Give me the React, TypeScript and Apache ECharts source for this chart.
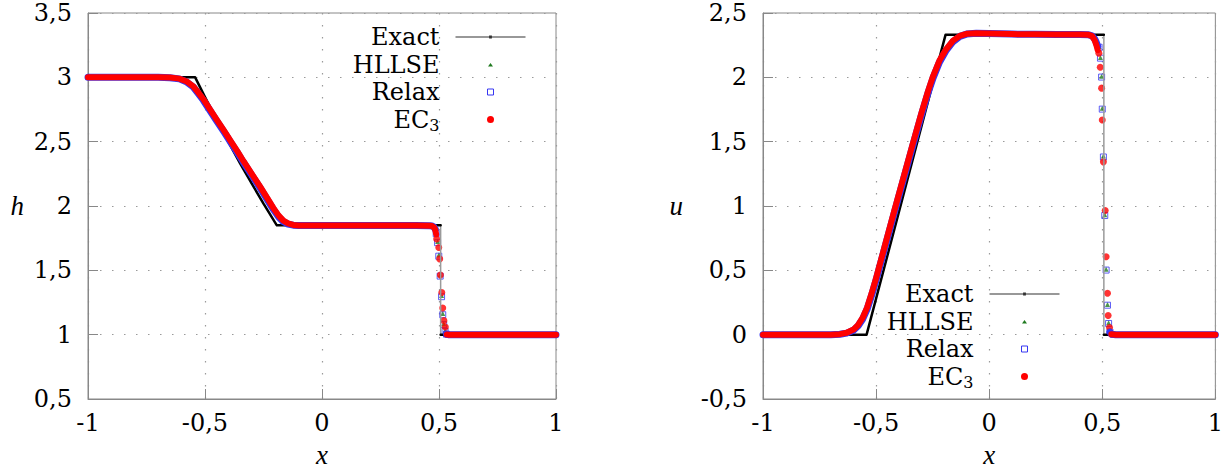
import React, { useEffect, useRef } from "react";
import * as echarts from "echarts";

// ---------- ticks ----------
const xTickValues = [-1, -0.5, 0, 0.5, 1];
const xTickLabels = ["-1", "-0,5", "0", "0,5", "1"];
const hTickValues = [0.5, 1, 1.5, 2, 2.5, 3, 3.5];
const hTickLabels = ["0,5", "1", "1,5", "2", "2,5", "3", "3,5"];
const uTickValues = [-0.5, 0, 0.5, 1, 1.5, 2, 2.5];
const uTickLabels = ["-0,5", "0", "0,5", "1", "1,5", "2", "2,5"];

const legendNames = ["Exact", "HLLSE", "Relax", "EC3"];

// ---------- h (left) ----------
const exactHWave = [[-1, 3], [-0.542, 3], [-0.5, 2.846], [-0.45, 2.669], [-0.4, 2.498], [-0.35, 2.332], [-0.3, 2.173], [-0.25, 2.018], [-0.193, 1.85], [0.507, 1.85]];
const exactHRight = [[0.507, 1], [1, 1]];
const exactHJump = [[0.507, 1.85], [0.507, 1]];

const hllseHSmooth = [[-1, 3], [-0.7, 3], [-0.65, 2.998], [-0.61, 2.99], [-0.58, 2.968], [-0.55, 2.928], [-0.53, 2.882], [-0.507, 2.826], [-0.48, 2.75], [-0.45, 2.667], [-0.42, 2.585], [-0.39, 2.5], [-0.36, 2.415], [-0.336, 2.345], [-0.3, 2.245], [-0.265, 2.148], [-0.235, 2.06], [-0.208, 1.98], [-0.185, 1.92], [-0.165, 1.882], [-0.145, 1.862], [-0.123, 1.852], [-0.1, 1.849], [0, 1.848], [0.2, 1.848], [0.4, 1.848], [0.46, 1.847], [0.47, 1.845], [0.478, 1.838], [0.484, 1.82]];
const hllseHRight = [[0.532, 1.006], [0.54, 1.0], [0.6, 1.0], [0.8, 1.0], [1, 1]];
const hllseHShock = [[0.488, 1.79], [0.494, 1.725], [0.499, 1.62], [0.505, 1.465], [0.511, 1.305], [0.516, 1.165], [0.52, 1.085], [0.526, 1.03], [0.532, 1.006]];

const relaxHSmooth = [[-1, 3], [-0.7, 3], [-0.65, 2.997], [-0.61, 2.988], [-0.58, 2.966], [-0.55, 2.925], [-0.53, 2.878], [-0.507, 2.822], [-0.48, 2.746], [-0.45, 2.662], [-0.42, 2.58], [-0.39, 2.495], [-0.36, 2.41], [-0.336, 2.34], [-0.3, 2.24], [-0.265, 2.142], [-0.235, 2.054], [-0.208, 1.974], [-0.185, 1.915], [-0.165, 1.878], [-0.145, 1.859], [-0.123, 1.851], [-0.1, 1.849], [0, 1.848], [0.2, 1.848], [0.4, 1.848], [0.46, 1.847], [0.47, 1.845], [0.478, 1.838], [0.484, 1.82]];
const relaxHRight = [[0.532, 1.004], [0.54, 1.0], [0.6, 1.0], [0.8, 1.0], [1, 1]];
const relaxHShock = [[0.488, 1.785], [0.494, 1.715], [0.499, 1.61], [0.505, 1.455], [0.511, 1.295], [0.516, 1.155], [0.52, 1.078], [0.526, 1.025], [0.532, 1.004]];

const ec3HSmooth = [[-1, 3], [-0.7, 3], [-0.65, 2.998], [-0.61, 2.99], [-0.58, 2.97], [-0.55, 2.93], [-0.53, 2.885], [-0.507, 2.83], [-0.48, 2.755], [-0.45, 2.672], [-0.42, 2.59], [-0.39, 2.505], [-0.36, 2.42], [-0.336, 2.35], [-0.3, 2.25], [-0.265, 2.153], [-0.235, 2.065], [-0.208, 1.985], [-0.185, 1.925], [-0.165, 1.886], [-0.145, 1.865], [-0.123, 1.853], [-0.1, 1.849], [0, 1.848], [0.2, 1.848], [0.4, 1.848], [0.46, 1.847], [0.47, 1.844], [0.478, 1.835], [0.484, 1.815], [0.488, 1.78]];
const ec3HRight = [[0.533, 1.002], [0.54, 1.0], [0.6, 1.0], [0.8, 1.0], [1, 1]];
const ec3HShock = [[0.49, 1.744], [0.499, 1.677], [0.503, 1.589], [0.506, 1.463], [0.512, 1.328], [0.516, 1.207], [0.521, 1.109], [0.527, 1.06], [0.533, 1.002]];

// ---------- u (right) ----------
const exactUWave = [[-1, 0], [-0.542, 0], [-0.193, 2.33], [0.507, 2.33]];
const exactURight = [[0.507, 0], [1, 0]];
const exactUJump = [[0.507, 2.33], [0.507, 0]];

const hllseUSmooth = [[-1, 0], [-0.7, 0], [-0.66, 0.003], [-0.63, 0.013], [-0.6, 0.036], [-0.58, 0.07], [-0.56, 0.124], [-0.54, 0.202], [-0.52, 0.31], [-0.5, 0.43], [-0.48, 0.56], [-0.46, 0.69], [-0.42, 0.95], [-0.38, 1.205], [-0.34, 1.46], [-0.3, 1.71], [-0.27, 1.886], [-0.248, 2.0], [-0.22, 2.122], [-0.19, 2.214], [-0.16, 2.28], [-0.13, 2.32], [-0.1, 2.337], [-0.057, 2.343], [0, 2.34], [0.1, 2.336], [0.2, 2.334], [0.3, 2.333], [0.4, 2.332], [0.44, 2.33], [0.455, 2.322], [0.466, 2.3], [0.474, 2.27], [0.48, 2.24]];
const hllseURight = [[0.534, 0.025], [0.54, 0.004], [0.56, 0], [0.7, 0], [1, 0]];
const hllseUShock = [[0.486, 2.24], [0.492, 2.155], [0.497, 2.008], [0.5, 1.76], [0.505, 1.388], [0.511, 0.932], [0.517, 0.508], [0.523, 0.235], [0.528, 0.092], [0.534, 0.025]];

const relaxUSmooth = [[-1, 0], [-0.7, 0], [-0.66, 0.003], [-0.63, 0.012], [-0.6, 0.034], [-0.58, 0.067], [-0.56, 0.12], [-0.54, 0.197], [-0.52, 0.305], [-0.5, 0.425], [-0.48, 0.555], [-0.46, 0.685], [-0.42, 0.945], [-0.38, 1.2], [-0.34, 1.455], [-0.3, 1.705], [-0.27, 1.882], [-0.248, 1.996], [-0.22, 2.118], [-0.19, 2.21], [-0.16, 2.277], [-0.13, 2.318], [-0.1, 2.336], [-0.057, 2.343], [0, 2.34], [0.1, 2.336], [0.2, 2.334], [0.3, 2.333], [0.4, 2.332], [0.44, 2.33], [0.455, 2.322], [0.466, 2.3], [0.474, 2.27], [0.48, 2.24]];
const relaxURight = [[0.534, 0.02], [0.54, 0.004], [0.56, 0], [0.7, 0], [1, 0]];
const relaxUShock = [[0.486, 2.234], [0.492, 2.149], [0.497, 2.002], [0.5, 1.753], [0.505, 1.381], [0.511, 0.926], [0.517, 0.502], [0.523, 0.229], [0.528, 0.087], [0.534, 0.02]];

const ec3USmooth = [[-1, 0], [-0.7, 0], [-0.66, 0.004], [-0.63, 0.015], [-0.6, 0.04], [-0.58, 0.075], [-0.56, 0.13], [-0.54, 0.21], [-0.52, 0.32], [-0.5, 0.44], [-0.48, 0.57], [-0.46, 0.7], [-0.42, 0.96], [-0.38, 1.215], [-0.34, 1.47], [-0.3, 1.72], [-0.27, 1.895], [-0.248, 2.01], [-0.22, 2.13], [-0.19, 2.22], [-0.16, 2.285], [-0.13, 2.322], [-0.1, 2.338], [-0.057, 2.343], [0, 2.34], [0.1, 2.336], [0.2, 2.334], [0.3, 2.333], [0.4, 2.332], [0.44, 2.33], [0.455, 2.32], [0.466, 2.29], [0.474, 2.25], [0.48, 2.21]];
const ec3URight = [[0.54, 0.004], [0.56, 0], [0.7, 0], [1, 0]];
const ec3UShock = [[0.485, 2.188], [0.491, 2.079], [0.497, 1.916], [0.5, 1.668], [0.505, 1.343], [0.513, 0.965], [0.517, 0.606], [0.523, 0.322], [0.526, 0.149], [0.532, 0.056], [0.54, 0.004]];

const FONT = "DejaVu Serif";
const ITALIC_FONT = "Liberation Serif";
const C_EXACT = "#000000";
const C_HLLSE = "#1f7a1f";
const C_RELAX = "#3636f2";
const C_EC3 = "#ff0000";

// legend icons: 70x8 bounding box (degenerate corner points), marker centred
const ICON_EXACT = "path://M0,0L0,0M70,8L70,8M0,3.4L70,3.4L70,4.6L0,4.6ZM33.6,2.6L36.4,2.6L36.4,5.4L33.6,5.4Z";
const ICON_TRI = "path://M0,0L0,0M70,8L70,8M32.5,6L35,2.5L37.5,6Z";
const ICON_SQ = "path://M0,0L0,0M70,8L70,8M32,1L38,1L38,7L32,7Z";
const ICON_DOT = "path://M0,0L0,0M70,8L70,8M38.5,4A3.5,3.5,0,1,1,31.5,4A3.5,3.5,0,1,1,38.5,4Z";

function lookupLabel(values: number[], labels: string[]) {
  return (v: number) => {
    const i = values.findIndex((t) => Math.abs(t - v) < 1e-9);
    return i >= 0 ? labels[i] : "";
  };
}

function line(name: string, data: number[][], gi: number, color: string, width: number, extra: any = {}) {
  return {
    type: "line",
    name,
    data,
    xAxisIndex: gi,
    yAxisIndex: gi,
    showSymbol: false,
    symbol: "none",
    lineStyle: { color, width, cap: "round", join: "round" },
    itemStyle: { color },
    silent: true,
    ...extra,
  };
}

function dots(name: string, data: number[][], gi: number, symbol: string, size: number, itemStyle: any) {
  return {
    type: "scatter",
    name,
    data,
    xAxisIndex: gi,
    yAxisIndex: gi,
    symbol,
    symbolSize: size,
    itemStyle,
    silent: true,
  };
}

function plotSeries(gi: number, d: any) {
  return [
    line("Exact", d.exactJump, gi, "#9a9a9a", 1.5),
    line("Exact", d.exactWave, gi, C_EXACT, 2.5),
    line("Exact", d.exactRight, gi, C_EXACT, 2.5),
    line("HLLSE", d.hllseSmooth, gi, C_HLLSE, 5),
    line("HLLSE", d.hllseRight, gi, C_HLLSE, 5),
    dots("HLLSE", d.hllseShock, gi, "triangle", 5, { color: C_HLLSE }),
    line("Relax", d.relaxSmooth, gi, C_RELAX, 7),
    line("Relax", d.relaxRight, gi, C_RELAX, 7),
    dots("Relax", d.relaxShock, gi, "rect", 6, { color: "rgba(255,255,255,0)", borderColor: C_RELAX, borderWidth: 1 }),
    line("EC3", d.ec3Smooth, gi, C_EC3, 6),
    line("EC3", d.ec3Right, gi, C_EC3, 6),
    dots("EC3", d.ec3Shock, gi, "circle", 7, { color: C_EC3 }),
  ];
}

function xAxisOf(gi: number) {
  return {
    gridIndex: gi,
    type: "value",
    min: -1,
    max: 1,
    interval: 0.5,
    name: "x",
    nameLocation: "middle",
    nameGap: 42,
    nameTextStyle: { fontFamily: ITALIC_FONT, fontSize: 27, fontStyle: "italic", color: "#000" },
    axisLine: { show: true, onZero: false, lineStyle: { color: "#888", width: 1 } },
    axisTick: { show: true, inside: true, length: 10, lineStyle: { color: "#888" } },
    axisLabel: { formatter: lookupLabel(xTickValues, xTickLabels), fontFamily: FONT, fontSize: 24, color: "#000", margin: 12 },
    splitLine: { show: true, lineStyle: { color: "#9a9a9a", type: [1.5, 10.5], width: 1.2 } },
  };
}

function yAxisOf(gi: number, name: string, gap: number, min: number, max: number, vals: number[], labs: string[]) {
  return {
    gridIndex: gi,
    type: "value",
    min,
    max,
    interval: 0.5,
    name,
    nameLocation: "middle",
    nameRotate: 0,
    nameGap: gap,
    nameTextStyle: { fontFamily: ITALIC_FONT, fontSize: 27, fontStyle: "italic", color: "#000" },
    axisLine: { show: true, onZero: false, lineStyle: { color: "#888", width: 1 } },
    axisTick: { show: true, inside: true, length: 10, lineStyle: { color: "#888" } },
    axisLabel: { formatter: lookupLabel(vals, labs), fontFamily: FONT, fontSize: 24, color: "#000", margin: 16 },
    splitLine: { show: true, lineStyle: { color: "#9a9a9a", type: [1.5, 10.5], width: 1.2 } },
  };
}

function legendOf(right: number, top: number) {
  return {
    orient: "vertical",
    align: "right",
    right,
    top,
    padding: 0,
    itemGap: 3.5,
    itemWidth: 70,
    itemHeight: 8,
    selectedMode: false,
    textStyle: {
      fontFamily: FONT,
      fontSize: 24,
      color: "#000",
      lineHeight: 24,
      padding: [0, 11, 0, 0],
      rich: {
        sub: { fontFamily: FONT, fontSize: 16, color: "#000", padding: [12, 0, 0, 0] },
      },
    },
    formatter: (n: string) => (n === "EC3" ? "EC{sub|3}" : n),
    data: [
      { name: legendNames[0], icon: ICON_EXACT, itemStyle: { color: "#333" } },
      { name: legendNames[1], icon: ICON_TRI, itemStyle: { color: C_HLLSE } },
      { name: legendNames[2], icon: ICON_SQ, itemStyle: { color: "#fff", borderColor: C_RELAX, borderWidth: 1 } },
      { name: legendNames[3], icon: ICON_DOT, itemStyle: { color: C_EC3 } },
    ],
  };
}

export default function App() {
  const ref = useRef<HTMLDivElement>(null);
  useEffect(() => {
    if (!ref.current) return;
    const chart = echarts.init(ref.current, undefined, { renderer: "svg" });
    const left = plotSeries(0, {
      exactWave: exactHWave, exactRight: exactHRight, exactJump: exactHJump,
      hllseSmooth: hllseHSmooth, hllseRight: hllseHRight, hllseShock: hllseHShock,
      relaxSmooth: relaxHSmooth, relaxRight: relaxHRight, relaxShock: relaxHShock,
      ec3Smooth: ec3HSmooth, ec3Right: ec3HRight, ec3Shock: ec3HShock,
    });
    const right = plotSeries(1, {
      exactWave: exactUWave, exactRight: exactURight, exactJump: exactUJump,
      hllseSmooth: hllseUSmooth, hllseRight: hllseURight, hllseShock: hllseUShock,
      relaxSmooth: relaxUSmooth, relaxRight: relaxURight, relaxShock: relaxUShock,
      ec3Smooth: ec3USmooth, ec3Right: ec3URight, ec3Shock: ec3UShock,
    });
    chart.setOption({
      animation: false,
      backgroundColor: "#ffffff",
      textStyle: { fontFamily: FONT },
      grid: [
        { left: 88, top: 13, width: 468, height: 387, show: true, borderColor: "#888", borderWidth: 1, backgroundColor: "transparent" },
        { left: 763, top: 13, width: 453, height: 387, show: true, borderColor: "#888", borderWidth: 1, backgroundColor: "transparent" },
      ],
      xAxis: [xAxisOf(0), xAxisOf(1)],
      yAxis: [
        yAxisOf(0, "h", 64, 0.5, 3.5, hTickValues, hTickLabels),
        yAxisOf(1, "u", 80, -0.5, 2.5, uTickValues, uTickLabels),
      ],
      legend: [legendOf(700, 25), legendOf(166, 282)],
      series: [...left, ...right],
    });
    return () => chart.dispose();
  }, []);
  return <div ref={ref} style={{ position: "absolute", left: 0, top: 0, width: 1226, height: 473 }} />;
}
